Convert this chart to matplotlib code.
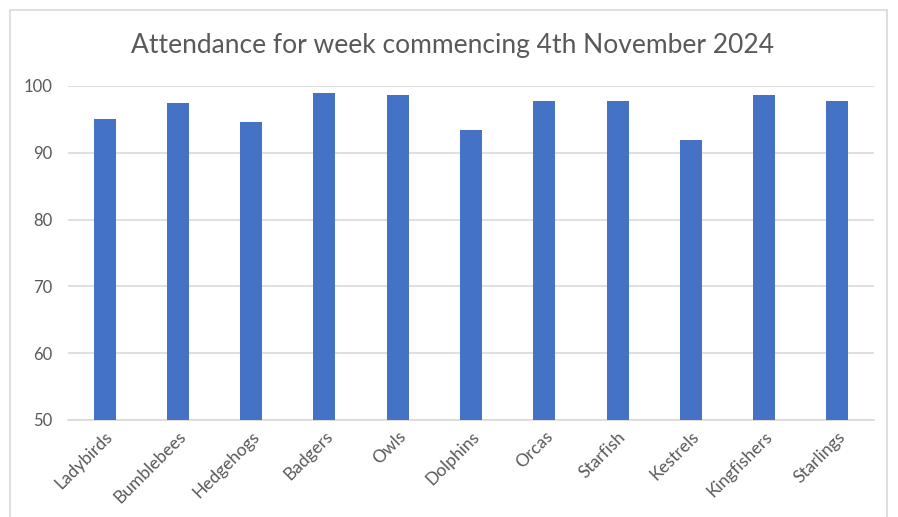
import matplotlib.pyplot as plt
from matplotlib.patches import Rectangle

groups = ['Ladybirds', 'Bumblebees', 'Hedgehogs', 'Badgers', 'Owls', 'Dolphins',
          'Orcas', 'Starfish', 'Kestrels', 'Kingfishers', 'Starlings']
attendance = [95.0, 97.4, 94.6, 99.0, 98.6, 93.4, 97.7, 97.7, 91.9, 98.7, 97.7]
yticks = [50, 60, 70, 80, 90, 100]

plt.rcParams['font.family'] = ['Lato', 'DejaVu Sans']
grey = '#595959'

fig = plt.figure(figsize=(8.98, 5.17), dpi=100)
ax = fig.add_axes([68 / 898, 1 - 420 / 517, 806 / 898, 334 / 517])

x = range(len(groups))
ax.bar(x, attendance, width=0.3, color='#4472c4', zorder=3)
ax.set_xlim(-0.5, len(groups) - 0.5)
ax.set_ylim(50, 100)
ax.set_yticks(yticks)
ax.set_yticklabels([str(v) for v in yticks], fontsize=12, color=grey)
ax.set_xticks(list(x))
ax.set_xticklabels(groups, rotation=45, ha='right', va='top', rotation_mode='anchor',
                   fontsize=12.5, color=grey)
ax.tick_params(length=0, axis='both')
ax.tick_params(axis='x', pad=6)
ax.tick_params(axis='y', pad=11)
ax.grid(axis='y', color='#d9d9d9', linewidth=1.2, zorder=0)
for s in ['top', 'right', 'left']:
    ax.spines[s].set_visible(False)
ax.spines['bottom'].set_color('#d9d9d9')
ax.spines['bottom'].set_linewidth(1.2)

fig.text(453 / 898, 1 - 45 / 517, 'Attendance for week commencing 4th November 2024',
         ha='center', va='center', fontsize=19, color=grey)

# chart border
fig.patches.append(Rectangle((10 / 898, -0.1), 877 / 898, 1.1 - 10 / 517,
                             transform=fig.transFigure, fill=False,
                             edgecolor='#d9d9d9', linewidth=1.2))

fig.savefig('out.png', dpi=100)
